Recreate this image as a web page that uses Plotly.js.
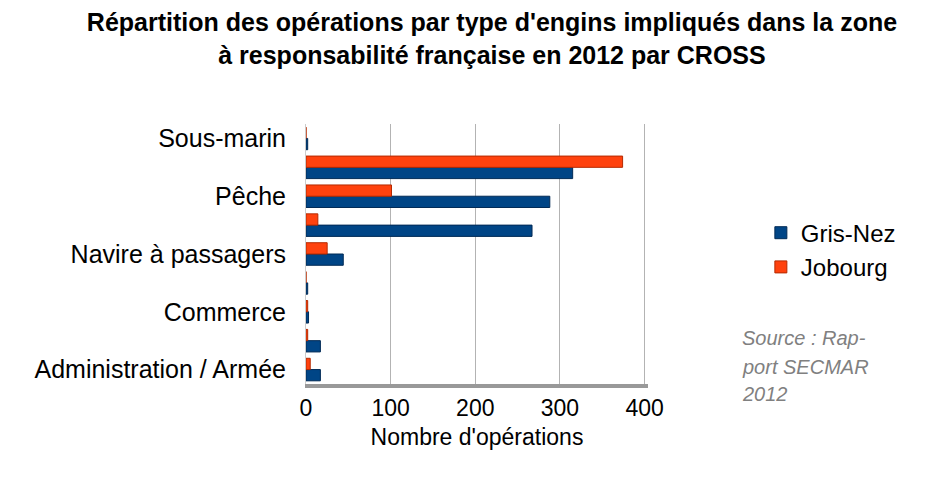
<!DOCTYPE html>
<html><head><meta charset="utf-8">
<script src="https://cdn.plot.ly/plotly-3.0.1.min.js"></script>
<style>body{margin:0;background:#fff}#c{width:938px;height:484px}</style>
</head><body><div id="c"></div>
<script>
const categories = ["Administration / Armée","Aéronef","Commerce","Loisirs nautiques","Navire à passagers","Non identifié","Pêche","Plaisance","Sous-marin"];
const shownLabels = ["Administration / Armée","Commerce","Navire à passagers","Pêche","Sous-marin"];
const grisNez = [17, 17, 3, 2, 44, 267, 288, 315, 2];
const jobourg = [5, 2, 2, 0, 25, 14, 101, 374, 0];
const xTicks = [0, 100, 200, 300, 400];
const sourceLines = ["Source : Rap-", "port SECMAR", "2012"];

const traces = [
  {type:'bar', orientation:'h', name:'Gris-Nez', legendgroup:'g', y:categories, x:grisNez,
   marker:{color:'#004586', line:{color:'#002a55', width:1}}},
  {type:'bar', orientation:'h', name:'Jobourg', legendgroup:'j', y:categories, x:jobourg,
   marker:{color:'#ff420e', line:{color:'#b52a00', width:1}}}
];
const srcY = [0.177, 0.067, -0.038];
const layout = {
  width:938, height:484,
  margin:{l:306, r:290, t:124, b:100},
  paper_bgcolor:'#fff', plot_bgcolor:'#fff',
  font:{family:'Liberation Sans, Arial, sans-serif', color:'#000'},
  title:{text:"<b>Répartition des opérations par type d'engins impliqués dans la zone<br>à responsabilité française en 2012 par CROSS</b>",
         font:{size:25, color:'#000'}, x:0.5245, xanchor:'center', y:0.935, yanchor:'middle'},
  barmode:'group', bargap:0.22, bargroupgap:0,
  xaxis:{range:[0,404], tickvals:xTicks, ticktext:xTicks.map(String),
         showgrid:true, gridcolor:'#b3b3b3', gridwidth:1, zeroline:false,
         showline:true, linecolor:'#999', linewidth:4,
         tickfont:{size:23}, ticks:'', ticklen:0,
         title:{text:"Nombre d'opérations", font:{size:23}, standoff:10}},
  yaxis:{type:'category', categoryorder:'array', categoryarray:categories,
         range:[-0.5, 8.5], tickvals:shownLabels, ticktext:shownLabels,
         tickfont:{size:25}, ticklabelstandoff:14, showline:true, linecolor:'#ccc', linewidth:1,
         ticks:'', ticklen:0, showgrid:false},
  legend:{x:1.33, xanchor:'left', y:0.515, yanchor:'middle', traceorder:'normal',
          font:{size:24}, itemwidth:30, tracegroupgap:8},
  annotations: sourceLines.map((t,i)=>({text:"<i>"+t+"</i>", xref:'paper', yref:'paper',
    x:1.269, y:srcY[i], xanchor:'left', yanchor:'middle', align:'left', showarrow:false,
    font:{size:20, color:'#808080'}}))
};
Plotly.newPlot('c', traces, layout, {displayModeBar:false, staticPlot:true});
</script></body></html>
